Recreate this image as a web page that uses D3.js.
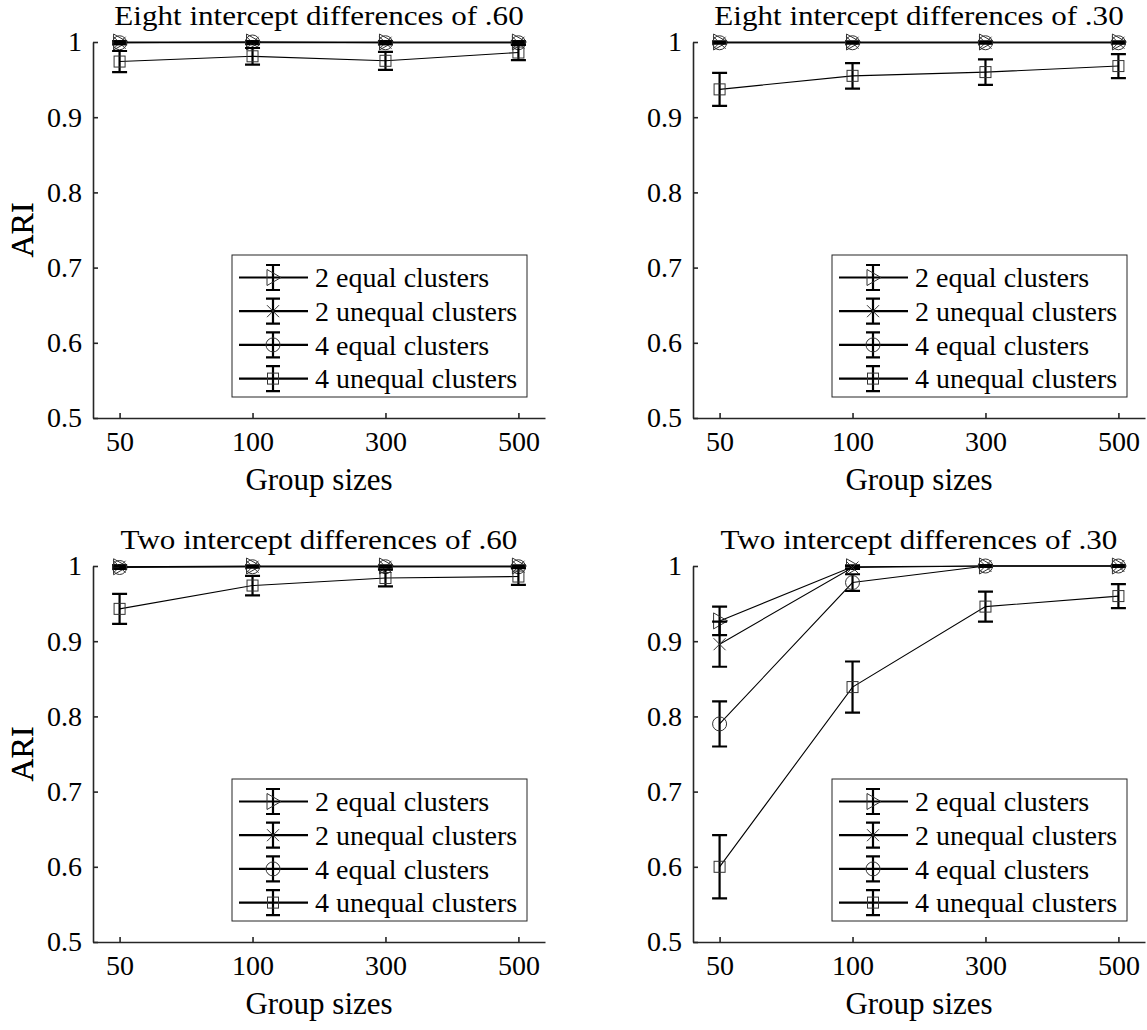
<!DOCTYPE html>
<html>
<head>
<meta charset="utf-8">
<script src="https://cdn.jsdelivr.net/npm/d3@7"></script>
<style>
  body { margin: 0; background: #fff; }
  svg { display: block; }
  text { font-family: "Liberation Serif", "Times New Roman", Times, "DejaVu Serif", serif; }
</style>
</head>
<body>
<svg id="chart" width="1147" height="1030"></svg>
<script>
const groupSizes = ['50', '100', '300', '500']
const seriesNames = ['2 equal clusters', '2 unequal clusters', '4 equal clusters', '4 unequal clusters']
const markerShapes = ['triangle', 'cross', 'circle', 'square']
const panelTitles = [
  'Eight intercept differences of .60',
  'Eight intercept differences of .30',
  'Two intercept differences of .60',
  'Two intercept differences of .30'
]
const yTicks = [0.5, 0.6, 0.7, 0.8, 0.9, 1]

// mean ARI, one row per series, one column per group size
const eight60Mean = [[1, 1, 1, 1], [0.999, 0.999, 0.999, 0.999], [0.999, 1, 0.999, 0.999], [0.974, 0.981, 0.975, 0.986]]
const eight60Err = [[0.001, 0.001, 0.001, 0.001], [0.002, 0.002, 0.002, 0.002], [0.002, 0.001, 0.002, 0.002], [0.014, 0.011, 0.012, 0.010]]
const eight30Mean = [[1, 1, 1, 1], [0.999, 0.999, 0.999, 0.999], [0.999, 0.999, 0.999, 0.999], [0.937, 0.955, 0.960, 0.968]]
const eight30Err = [[0.001, 0.001, 0.001, 0.001], [0.001, 0.001, 0.001, 0.001], [0.001, 0.001, 0.001, 0.001], [0.022, 0.017, 0.017, 0.016]]
const two60Mean = [[0.999, 1, 1, 1], [0.999, 0.999, 0.999, 0.999], [0.998, 0.999, 0.999, 0.999], [0.943, 0.974, 0.984, 0.986]]
const two60Err = [[0.002, 0.001, 0.001, 0.001], [0.002, 0.001, 0.001, 0.001], [0.002, 0.001, 0.001, 0.001], [0.020, 0.013, 0.011, 0.011]]
const two30Mean = [[0.927, 0.999, 1, 1], [0.896, 0.998, 1, 1], [0.790, 0.978, 1, 1], [0.600, 0.839, 0.946, 0.960]]
const two30Err = [[0.019, 0.002, 0.001, 0.001], [0.030, 0.002, 0.001, 0.001], [0.030, 0.011, 0.001, 0.001], [0.042, 0.034, 0.020, 0.016]]

const panelMeans = [eight60Mean, eight30Mean, two60Mean, two30Mean]
const panelErrs = [eight60Err, eight30Err, two60Err, two30Err]

const svg = d3.select('#chart')
const axisColor = '#262626'
const panelW = 452
const panelH = 376
const origins = [[93, 42], [693, 42], [93, 566], [693, 566]]

function drawMarker(g, shape, cx, cy) {
  const m = g.append('g')
    .attr('fill', 'none')
    .attr('stroke', '#333')
    .attr('stroke-width', 1)
  if (shape === 'triangle') {
    m.append('path').attr('d', `M${cx - 6},${cy - 8}L${cx + 8},${cy}L${cx - 6},${cy + 8}Z`)
  } else if (shape === 'cross') {
    m.append('path').attr('d', `M${cx - 6},${cy - 6}L${cx + 6},${cy + 6}M${cx - 6},${cy + 6}L${cx + 6},${cy - 6}`)
  } else if (shape === 'circle') {
    m.append('circle').attr('cx', cx).attr('cy', cy).attr('r', 7)
  } else {
    m.append('rect').attr('x', cx - 5.5).attr('y', cy - 5.5).attr('width', 11).attr('height', 11)
  }
}

function errorBar(g, x, y1, y2, half) {
  const p = d3.path()
  p.moveTo(x, y1); p.lineTo(x, y2)
  p.moveTo(x - half, y1); p.lineTo(x + half, y1)
  p.moveTo(x - half, y2); p.lineTo(x + half, y2)
  g.append('path')
    .attr('d', p.toString())
    .attr('stroke', '#000')
    .attr('stroke-width', 2.2)
    .attr('fill', 'none')
}

panelTitles.forEach((title, k) => {
  const [ox, oy] = origins[k]
  const g = svg.append('g').attr('transform', `translate(${ox},${oy})`)
  const x = d3.scaleLinear().domain([-0.2, 3.2]).range([0, panelW])
  const y = d3.scaleLinear().domain([0.5, 1]).range([panelH, 0])

  // axes
  const yAxis = d3.axisLeft(y)
    .tickValues(yTicks)
    .tickFormat(d => d === 1 ? '1' : d.toFixed(1))
    .tickSizeInner(-5)
    .tickSizeOuter(0)
    .tickPadding(11)
  const xAxis = d3.axisBottom(x)
    .tickValues([0, 1, 2, 3])
    .tickFormat(i => groupSizes[i])
    .tickSizeInner(-5)
    .tickSizeOuter(0)
    .tickPadding(13)
  const ya = g.append('g').call(yAxis)
  const xa = g.append('g').attr('transform', `translate(0,${panelH})`).call(xAxis)
  ;[ya, xa].forEach(a => {
    a.attr('font-family', null)
    a.selectAll('path, line').attr('stroke', axisColor).attr('stroke-width', 1.6)
    a.selectAll('text')
      .attr('fill', '#000')
      .style('font-size', '28px')
  })

  // title is drawn a bit wider than the font, like the original export
  g.append('text')
    .attr('transform', `translate(${panelW / 2},-17) scale(1.11,1)`)
    .attr('text-anchor', 'middle')
    .style('font-size', '28px')
    .text(title)
  g.append('text')
    .attr('x', panelW / 2)
    .attr('y', panelH + 72)
    .attr('text-anchor', 'middle')
    .style('font-size', '31px')
    .text('Group sizes')
  g.append('text')
    .attr('transform', `translate(${33 - ox},${panelH / 2}) rotate(-90)`)
    .attr('text-anchor', 'middle')
    .style('font-size', '32px')
    .text('ARI')

  // series
  const means = panelMeans[k]
  const errs = panelErrs[k]
  const line = d3.line().x((d, i) => x(i)).y(d => y(d))
  seriesNames.forEach((name, s) => {
    const sg = g.append('g')
    sg.append('path')
      .attr('d', line(means[s]))
      .attr('fill', 'none')
      .attr('stroke', '#000')
      .attr('stroke-width', 1.1)
    means[s].forEach((v, i) => {
      errorBar(sg, x(i), y(v + errs[s][i]), y(v - errs[s][i]), 7.5)
    })
    means[s].forEach((v, i) => drawMarker(sg, markerShapes[s], x(i), y(v)))
  })

  // legend
  const lg = g.append('g').attr('transform', `translate(139,213)`)
  lg.append('rect')
    .attr('width', 295)
    .attr('height', 142)
    .attr('fill', '#fff')
    .attr('stroke', axisColor)
    .attr('stroke-width', 1)
  seriesNames.forEach((name, s) => {
    const ry = 22.5 + s * 33.7
    lg.append('line')
      .attr('x1', 7).attr('x2', 76)
      .attr('y1', ry).attr('y2', ry)
      .attr('stroke', '#000')
      .attr('stroke-width', 2.2)
    errorBar(lg, 41, ry - 12.5, ry + 12.5, 7)
    drawMarker(lg, markerShapes[s], 41, ry)
    lg.append('text')
      .attr('x', 83)
      .attr('y', ry)
      .attr('dy', '0.35em')
      .style('font-size', '28px')
      .text(name)
  })
})
</script>
</body>
</html>
